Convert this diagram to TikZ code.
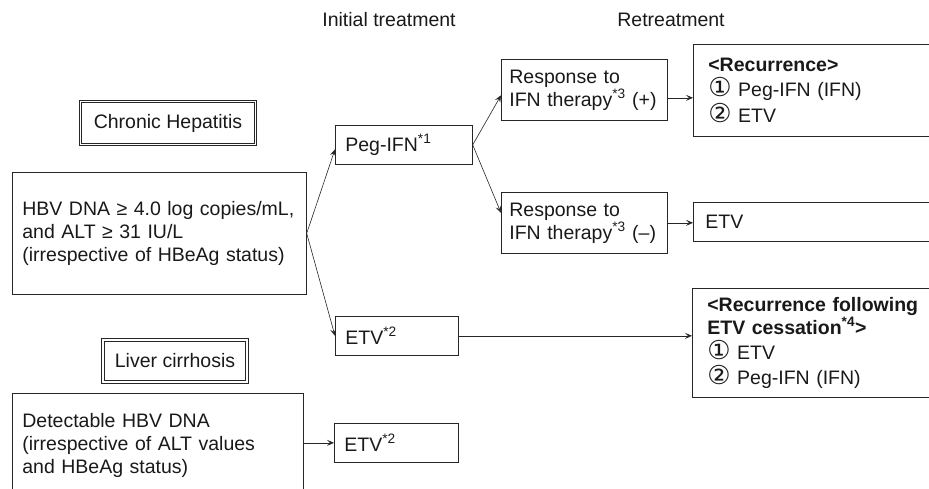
\documentclass[tikz,border=0pt]{standalone}
\usepackage{fontspec}
\setmainfont{Liberation Sans}
\newfontfamily\circf{DejaVu Sans}
\newcommand{\circnum}[1]{{\circf\fontsize{26}{23}\selectfont #1}}
\usetikzlibrary{arrows.meta}

\begin{document}
\begin{tikzpicture}[x=1pt, y=-1pt,
  every node/.style={font=\fontsize{19.5}{23}\selectfont, text=black!90},
  box/.style={draw=black!85, line width=0.7pt, anchor=north west, inner xsep=10pt, inner ysep=0pt, align=left},
  dbox/.style={draw=black!85, line width=0.8pt, double, double distance=1.8pt, inner sep=0pt},
  arr/.style={draw=black!85, line width=0.6pt, -{Stealth[length=7pt, width=6pt, inset=3pt]}}]
\path[use as bounding box] (0,0) rectangle (929,489);
\clip (0,0) rectangle (929,489);
% headers
\node (init) at (389,20) {Initial treatment};
\node (retr) at (671,20) {Retreatment};
% left column
\node[dbox, minimum width=175pt, minimum height=43pt] (hep) at (168,123) {Chronic Hepatitis};
\node[box, text width=274pt, minimum height=122pt] (hbv) at (12,172)
  {HBV DNA \char"2265{} 4.0 log copies/mL,\\and ALT \char"2265{} 31 IU/L\\(irrespective of HBeAg status)};
\node[dbox, minimum width=144pt, minimum height=42pt] (cir) at (175,361) {Liver cirrhosis};
\node[box, text width=271pt, minimum height=104pt] (det) at (12,393)
  {Detectable HBV DNA\\(irrespective of ALT values\\and HBeAg status)};
% initial treatment
\node[box, text width=117pt, minimum height=39pt] (peg) at (335,125) {Peg-IFN\textsuperscript{*1}};
\node[box, text width=103pt, minimum height=39pt] (etv1) at (335,316) {ETV\textsuperscript{*2}};
\node[box, text width=104pt, minimum height=39pt] (etv2) at (334,423) {ETV\textsuperscript{*2}};
\node[box, inner xsep=8pt, text width=150pt, minimum height=61pt] (rp) at (501,59)
  {Response to\\IFN therapy\textsuperscript{*3} (+)};
\node[box, inner xsep=8pt, text width=150pt, minimum height=61pt] (rm) at (501,192)
  {Response to\\IFN therapy\textsuperscript{*3} (\textendash)};
% retreatment
\node[box, inner xsep=15pt, text width=230pt, minimum height=92pt] (rec) at (693,44)
  {\textbf{<Recurrence>}\\[2pt]\circnum{①} Peg-IFN (IFN)\\[2pt]\circnum{②} ETV};
\node[box, inner xsep=12pt, text width=236pt, minimum height=39pt] (etv3) at (693,202) {ETV};
\node[box, inner xsep=15pt, text width=230pt, minimum height=109pt] (recf) at (692,288)
  {\textbf{<Recurrence following}\\\textbf{ETV cessation\textsuperscript{*4}>}\\[2pt]\circnum{①} ETV\\[2pt]\circnum{②} Peg-IFN (IFN)};
% arrows
\draw[arr] (hbv.east) -- ([yshift=-4.5pt]peg.west);
\draw[arr] (hbv.east) -- (etv1.west);
\draw[arr] (peg.east) -- ([yshift=-5.5pt]rp.west);
\draw[arr] (peg.east) -- ([yshift=10pt]rm.west);
\draw[arr] ([yshift=-8pt]rp.east) -- ([yshift=-8pt]rp.east -| rec.west);
\draw[arr] (rm.east) -- (rm.east -| etv3.west);
\draw[arr] (etv1.east) -- (etv1.east -| recf.west);
\draw[arr] (etv2.west -| det.east) -- (etv2.west);
\end{tikzpicture}
\end{document}
